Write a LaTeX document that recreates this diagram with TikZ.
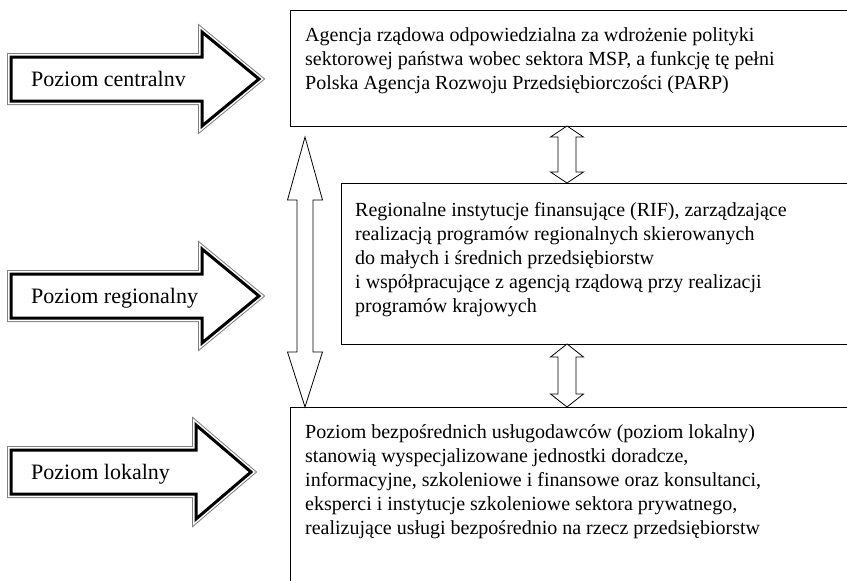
\documentclass[tikz,border=0pt]{standalone}
\usepackage{fontspec}
\setmainfont{Liberation Serif}
\begin{document}
\begin{tikzpicture}[x=1pt,y=-1pt,
  box/.style={draw,line width=1pt,anchor=north west,inner sep=0pt},
  txt/.style={anchor=north west,align=left,inner sep=0pt,font=\fontsize{20}{24}\selectfont},
  level/.style={fill=white,draw=black,line width=3pt,
    preaction={draw=black!50,line width=8pt},
    preaction={draw=white,line width=6pt}},
  link/.style={draw,fill=white,line width=0.8pt}]
\useasboundingbox (0,0) rectangle (847,581);
\clip (0,0) rectangle (847,581);
% boxes
\node[box,minimum width=600pt,minimum height=116pt] (central) at (290,10) {};
\node[box,minimum width=550pt,minimum height=161pt] (regional) at (341,183) {};
\node[box,minimum width=600pt,minimum height=220pt] (local) at (290,407) {};
\node[txt] (centraltxt) at (305,27) {Agencja rządowa odpowiedzialna za wdrożenie polityki\\
  sektorowej państwa wobec sektora MSP, a funkcję tę pełni\\
  Polska Agencja Rozwoju Przedsiębiorczości (PARP)};
\node[txt] (regionaltxt) at (355,202) {Regionalne instytucje finansujące (RIF), zarządzające\\
  realizacją programów regionalnych skierowanych\\
  do małych i średnich przedsiębiorstw\\
  i współpracujące z agencją rządową przy realizacji\\
  programów krajowych};
\node[txt] (localtxt) at (305,424) {Poziom bezpośrednich usługodawców (poziom lokalny)\\
  stanowią wyspecjalizowane jednostki doradcze,\\
  informacyjne, szkoleniowe i finansowe oraz konsultanci,\\
  eksperci i instytucje szkoleniowe sektora prywatnego,\\
  realizujące usługi bezpośrednio na rzecz przedsiębiorstw};
% level arrows
\foreach \cy/\xb/\xt/\lab [count=\i] in {79/202/259/Poziom centralnv,
    296/202/259/Poziom regionalny, 472/196/251/Poziom lokalny}
{
  \path[level] (11,\cy-22) -- (\xb,\cy-22) -- (\xb,\cy-47) -- (\xt,\cy)
    -- (\xb,\cy+47) -- (\xb,\cy+22) -- (11,\cy+22) -- cycle;
  \node[txt,anchor=base west,font=\fontsize{22}{26}\selectfont] (lvl\i) at (31,\cy+7) {\lab};
}
% double arrows
\path[link] (305,137) -- (322.5,200) -- (313,200) -- (313,352) -- (322.5,352)
  -- (305,407) -- (287.5,352) -- (297,352) -- (297,200) -- (287.5,200) -- cycle;
\path[link] (567,126) -- (583.5,137) -- (576,137) -- (576,172) -- (583.5,172)
  -- (567,183) -- (550.5,172) -- (558,172) -- (558,137) -- (550.5,137) -- cycle;
\path[link] (567,344) -- (583.5,357) -- (576,357) -- (576,394) -- (583.5,394)
  -- (567,407) -- (550.5,394) -- (558,394) -- (558,357) -- (550.5,357) -- cycle;
\end{tikzpicture}
\end{document}
